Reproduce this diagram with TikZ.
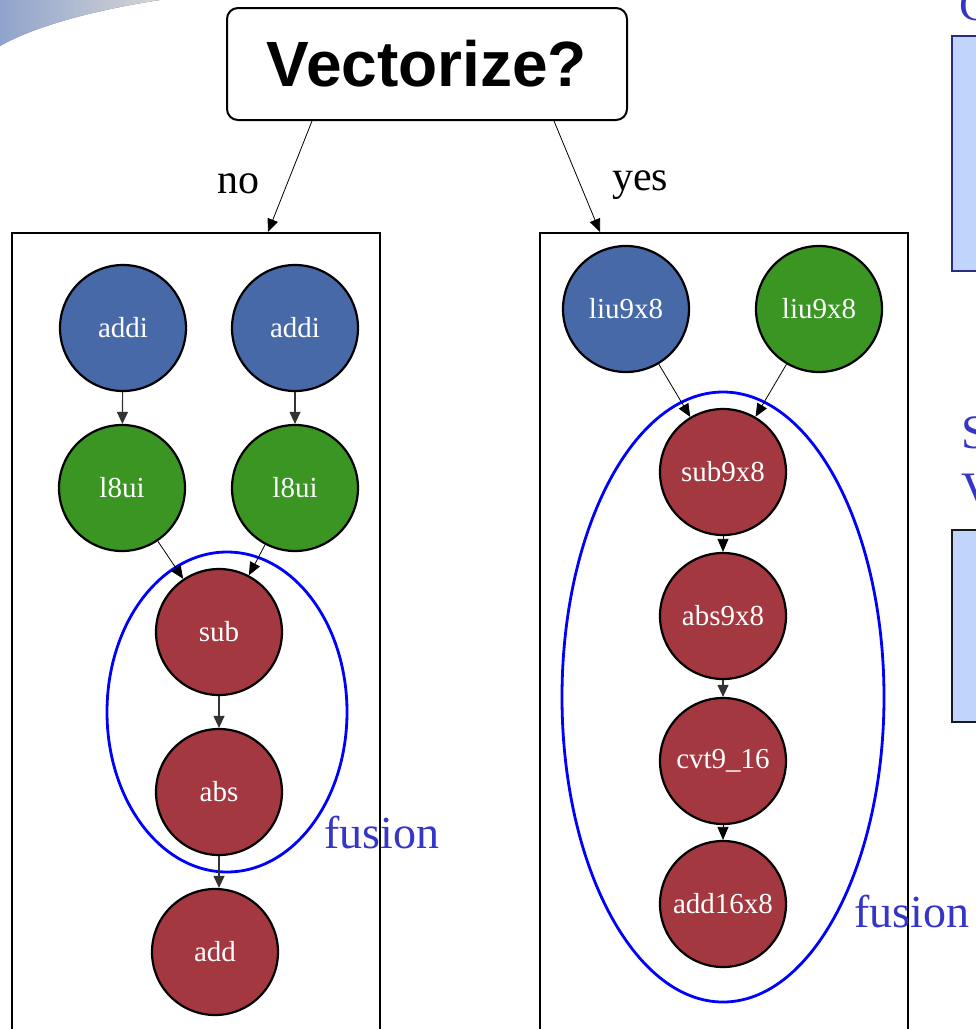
\documentclass[tikz,border=0pt]{standalone}
\usepackage{fontspec}
\setmainfont{Liberation Serif}
\newfontfamily\arialfont{Liberation Sans}
\usetikzlibrary{arrows.meta,shapes.geometric}
\definecolor{opblue}{HTML}{4769A7}
\definecolor{opgreen}{HTML}{3A9523}
\definecolor{opred}{HTML}{A43840}
\definecolor{fusblue}{HTML}{3535C8}
\definecolor{slidefill}{HTML}{C0D4FC}
\definecolor{slideedge}{HTML}{2A2A88}
\definecolor{darkedge}{HTML}{333333}
\definecolor{swoosh}{HTML}{A8C0F4}
\begin{document}
\begin{tikzpicture}[x=1pt,y=-1pt,
  op/.style={circle, draw=black, line width=2.2pt, minimum size=126pt, inner sep=0pt,
    text=white, font=\fontsize{29}{29}\selectfont},
  frame/.style={draw=black, line width=2.4pt, minimum width=368pt, minimum height=840pt,
    anchor=north west, inner sep=0pt},
  flow/.style={draw=darkedge, line width=1.1pt, -{Triangle[length=12pt,width=11pt]}},
  thin/.style={draw=black, line width=0.8pt, -{Triangle[length=13pt,width=11pt]}},
  fuse/.style={ellipse, draw=blue, line width=2.8pt, inner sep=0pt},
  fuslabel/.style={text=fusblue, font=\fontsize{46}{46}\selectfont, anchor=base west, inner sep=0pt},
  branch/.style={font=\fontsize{42}{42}\selectfont, inner sep=0pt, anchor=base}
]
\useasboundingbox (0,0) rectangle (976,1029);
\clip (0,0) rectangle (976,1029);

% slide decoration top-left
\fill[left color=swoosh, right color=white, opacity=0.8]
  (0,0) -- (160,0) .. controls (95,10) and (35,26) .. (0,46) -- cycle;

% decoration at right edge
\node[text=fusblue, font=\fontsize{46}{46}\selectfont, anchor=base west, inner sep=0pt] (cT) at (959,20) {C};
\node[draw=slideedge, fill=slidefill, line width=2pt, minimum width=60pt, minimum height=235pt,
  anchor=north west, inner sep=0pt] (sb1) at (951,35) {};
\node[text=fusblue, font=\fontsize{48}{48}\selectfont, anchor=base west, inner sep=0pt] (sT) at (961,448) {S};
\node[text=fusblue, font=\fontsize{48}{48}\selectfont, anchor=base west, inner sep=0pt] (vT) at (961,505) {V};
\node[draw=black!90, fill=slidefill, line width=2pt, minimum width=60pt, minimum height=192pt,
  anchor=north west, inner sep=0pt] (sb2) at (951,529) {};

% question box
\node[draw=black, line width=2pt, rounded corners=11pt, minimum width=400pt, minimum height=112pt,
  inner sep=0pt, font=\arialfont\bfseries\fontsize{64}{64}\selectfont] (vec) at (427,64) {Vectorize?};

% frames
\node[frame] (lbox) at (11,232) {};
\node[frame] (rbox) at (539,232) {};

\draw[thin] ([xshift=86pt]vec.south west) -- ([xshift=257pt]lbox.north west);
\draw[thin] ([xshift=-74pt]vec.south east) -- ([xshift=61pt]rbox.north west);
\node[branch] (no) at (238,193) {no};
\node[branch] (yes) at (640,190) {yes};

% left graph
\node[fuse, minimum width=240pt, minimum height=320pt] (fus1) at (227,712) {};
\node[op, fill=opblue] (a1) at (123,328) {addi};
\node[op, fill=opblue] (a2) at (295,328) {addi};
\node[op, fill=opgreen] (l1) at (122,488) {l8ui};
\node[op, fill=opgreen] (l2) at (295,488) {l8ui};
\node[op, fill=opred] (sub) at (219,632) {sub};
\node[op, fill=opred] (abs) at (219,792) {abs};
\node[op, fill=opred] (add) at (215,952) {add};
\draw[flow] (a1) -- (l1);
\draw[flow] (a2) -- (l2);
\draw[thin] (l1) -- (sub);
\draw[thin] (l2) -- (sub);
\draw[flow] (sub) -- (abs);
\draw[flow] (abs.south) -- (add.north -| abs.south);
\node[fuslabel] (f1) at (324,848) {fusion};

% right graph
\node[fuse, minimum width=322pt, minimum height=610pt] (fus2) at (723,697) {};
\node[op, fill=opblue] (liu1) at (626,309) {liu9x8};
\node[op, fill=opgreen] (liu2) at (819,309) {liu9x8};
\node[op, fill=opred] (s98) at (723,472) {sub9x8};
\node[op, fill=opred] (a98) at (723,616) {abs9x8};
\node[op, fill=opred] (cvt) at (723,761) {cvt9\_16};
\node[op, fill=opred] (a168) at (723,904) {add16x8};
\draw[thin] (liu1) -- (s98);
\draw[thin] (liu2) -- (s98);
\draw[thin] (s98) -- (a98);
\draw[flow] (a98) -- (cvt);
\draw[thin] (cvt) -- (a168);
\node[fuslabel] (f2) at (854,927) {fusion};
\end{tikzpicture}
\end{document}
